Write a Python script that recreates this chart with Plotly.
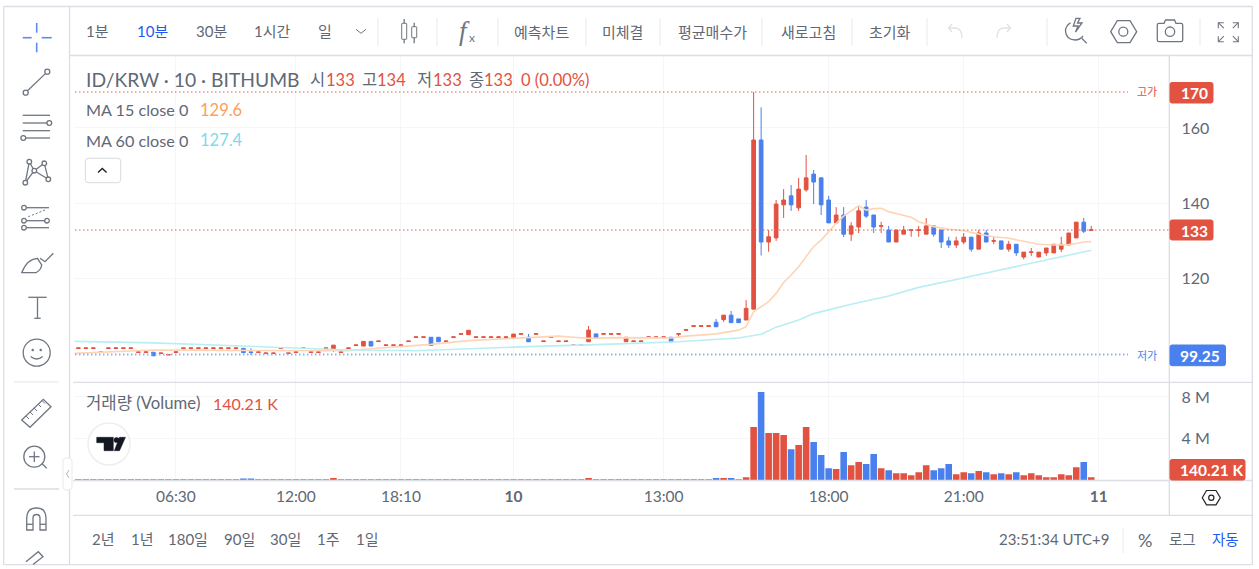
import re
import plotly.graph_objects as go
from plotly.subplots import make_subplots

W, H = 1259, 569
RED = "#e25241"
BLUE = "#4a80ee"
TEXT = "#5f6875"
ICON = "#6f7681"
LINE = "#dcdee5"
FONT = "Lato, 'Noto Sans CJK KR', sans-serif"

# candles
candle_open = [
    101.2, 101.2, 101.2, 100.15, 101.2, 101.2, 101.2, 101.2, 100.15, 100.15,
    100.2, 99.85, 99.45, 100.15, 101.2, 101.2, 101.2, 101.2, 101.2, 101.2,
    101.2, 101.2, 101.25, 100.3, 100.15, 99.85, 99.85, 101.2, 99.85, 100.15,
    101.2, 100.15, 100.15, 101.2, 101.1, 100.15, 101.2, 102, 101.85, 103.1,
    103.05, 102, 102, 102, 103.05, 104.15, 104.15, 104.2, 104.2, 103.05,
    104.15, 105, 104.9, 104.15, 104.15, 104.15, 104.15, 104.15, 104.1, 105,
    104.2, 105, 103.05, 104.15, 103.05, 103.05, 102, 102, 103, 105.1,
    105, 105, 105, 103, 103.05, 103.05, 104.15, 104.15, 104.15, 104.2,
    105, 106.05, 107.1, 107.1, 107.1, 108.2, 108.9, 110.1, 109.1, 108.8,
    111.7, 156.8, 129.6, 130.7, 139.5, 141.9, 138.7, 143.5, 147.7, 146.7,
    140.8, 134.7, 136.8, 131.7, 133.6, 138.9, 136.8, 133.8, 132.8, 129.6,
    131.7, 132.7, 132.7, 131.7, 133.9, 132.8, 129.9, 128.8, 129.6, 130.9,
    127.7, 132, 129.8, 129.9, 127.7, 129, 125.6, 126.8, 125.6, 126.7,
    126.7, 127.7, 128.8, 130.7, 134.9, 132.7,
]
candle_close = [
    101.35, 101.35, 101.35, 100.3, 101.35, 101.35, 101.35, 101.35, 100.3, 100.3,
    99.25, 100, 99.6, 100.3, 101.35, 101.35, 101.35, 101.35, 101.35, 101.35,
    101.35, 101.35, 100.1, 100.15, 100.3, 100, 100, 101.35, 100, 100.3,
    101.35, 100.3, 100.3, 101.35, 102.1, 100.3, 101.35, 102.15, 103.1, 101.85,
    103.2, 102.15, 102.15, 102.15, 103.2, 104.3, 104.3, 102, 103, 103.2,
    104.3, 105.15, 106.05, 104.3, 104.3, 104.3, 104.3, 104.3, 105.05, 105.15,
    103, 105.15, 103.2, 104.3, 103.2, 103.2, 102.15, 102.15, 106.1, 104,
    105.15, 105.15, 105.15, 104.2, 103.2, 103.2, 104.3, 104.3, 104.3, 103,
    105.15, 106.2, 107.25, 107.25, 107.25, 107, 110.1, 108.1, 108.1, 111.9,
    156.8, 129.6, 131, 139.7, 140.8, 139.5, 143.7, 146.7, 145.6, 139.5,
    134.7, 136.8, 131.7, 133.9, 137.9, 136.5, 133.6, 133.95, 129.6, 132.8,
    132.8, 132.85, 132.85, 133.9, 131.7, 129.6, 128.8, 129.9, 130.9, 127.7,
    132, 129.6, 129.95, 127.7, 129, 126.7, 126.9, 126.95, 126.9, 128,
    129, 129, 132, 134.9, 132.5, 132.85,
]
candle_high = [
    101.35, 101.35, 101.35, 100.3, 101.35, 101.35, 101.35, 101.35, 100.3, 100.3,
    100.2, 100, 99.6, 100.3, 101.35, 101.35, 101.35, 101.35, 101.35, 101.35,
    101.35, 101.35, 101.25, 101.25, 100.3, 100, 100, 101.35, 100, 100.3,
    101.35, 100.3, 100.3, 101.35, 102.1, 100.3, 101.35, 102.15, 103.1, 103.1,
    103.2, 102.15, 102.15, 102.15, 103.2, 104.3, 104.3, 104.2, 104.2, 103.2,
    104.3, 105.15, 106.05, 104.3, 104.3, 104.3, 104.3, 104.3, 105.05, 105.15,
    105.1, 105.15, 103.2, 104.3, 103.2, 103.2, 102.15, 102.15, 107.2, 105.1,
    105.15, 105.15, 105.15, 104.2, 103.2, 103.2, 104.3, 104.3, 104.3, 104.2,
    105.15, 106.2, 107.25, 107.25, 107.25, 109.1, 110.1, 111.2, 109.1, 114.1,
    169.6, 165.5, 132.8, 140.8, 143.7, 144.8, 146.7, 152.8, 148.8, 146.7,
    141.9, 138.9, 138.9, 134.9, 138.9, 140.8, 136.8, 135, 133.9, 132.8,
    133.9, 132.85, 133.9, 136, 133.9, 132.8, 131, 131, 132, 130.9,
    132.8, 132.8, 131, 129.9, 129.9, 129, 126.9, 128, 126.9, 128,
    129, 131, 132, 134.9, 136, 133.9,
]
candle_low = [
    101.2, 101.2, 101.2, 100.15, 101.2, 101.2, 101.2, 101.2, 100.15, 100.15,
    99.25, 99.85, 99.45, 100.15, 101.2, 101.2, 101.2, 101.2, 101.2, 101.2,
    101.2, 101.2, 100.1, 99.45, 100.15, 99.85, 99.85, 101.2, 99.85, 100.15,
    101.2, 100.15, 100.15, 101.2, 100.25, 100.15, 101.2, 102, 101.85, 101.85,
    103.05, 102, 102, 102, 103.05, 104.15, 104.15, 102, 103, 103.05,
    104.15, 105, 104.9, 104.15, 104.15, 104.15, 104.15, 104.15, 104.1, 105,
    103, 105, 103.05, 104.15, 103.05, 103.05, 102, 102, 103, 104,
    105, 105, 105, 103, 103.05, 103.05, 104.15, 104.15, 104.15, 103,
    104.2, 106.05, 107.1, 107.1, 107.1, 107, 108.3, 108.1, 108.1, 108.8,
    111.7, 126, 127, 129.9, 136, 137.9, 137.9, 143, 139.7, 136.8,
    134.7, 134.7, 130.9, 129.9, 132, 136, 132, 132, 129.6, 129.6,
    131.7, 131, 131, 131.7, 131, 128, 128, 128, 129, 127,
    127.7, 129.6, 129, 127.7, 127, 125.9, 125, 125.9, 125.6, 125.9,
    126.7, 126.9, 128.8, 130.7, 132, 132.5,
]
# volume in millions
volume = [
    0.08, 0.08, 0.08, 0.08, 0.08, 0.08, 0.08, 0.08, 0.08, 0.08,
    0.1, 0.08, 0.08, 0.08, 0.08, 0.08, 0.08, 0.08, 0.08, 0.08,
    0.08, 0.08, 0.2, 0.2, 0.08, 0.08, 0.08, 0.08, 0.08, 0.08,
    0.08, 0.08, 0.08, 0.08, 0.25, 0.08, 0.1, 0.08, 0.08, 0.1,
    0.08, 0.08, 0.08, 0.08, 0.08, 0.08, 0.08, 0.1, 0.1, 0.08,
    0.08, 0.08, 0.08, 0.08, 0.08, 0.08, 0.08, 0.08, 0.08, 0.08,
    0.1, 0.08, 0.08, 0.08, 0.08, 0.08, 0.08, 0.08, 0.25, 0.1,
    0.08, 0.08, 0.08, 0.08, 0.08, 0.08, 0.08, 0.08, 0.08, 0.1,
    0.08, 0.08, 0.08, 0.08, 0.08, 0.25, 0.25, 0.25, 0.1, 0.32,
    5.12, 8.48, 4.54, 4.54, 4.35, 3.0, 3.39, 5.12, 3.68, 2.43,
    1.18, 1.09, 2.72, 1.47, 1.76, 1.57, 2.53, 1.18, 0.99, 0.7,
    0.7, 0.51, 0.8, 1.47, 0.99, 1.18, 1.57, 0.61, 0.8, 0.7,
    0.9, 0.8, 0.61, 0.7, 0.61, 0.8, 0.51, 0.7, 0.51, 0.32,
    0.32, 0.61, 0.51, 1.28, 1.76, 0.3,
]

ma15_x = [-0.5, 5, 10, 20, 30, 36, 38, 42, 46, 47, 52, 58, 64, 66, 68, 72, 79, 81, 85, 88, 89,
          90, 91, 92, 93, 94, 95, 96, 97, 98, 99, 100, 101, 102, 103, 104, 105, 106, 107, 108,
          109, 110, 111, 112, 114, 116, 118, 120, 122, 124, 126, 128, 130, 132, 133, 134, 135]
ma15_y = [99.9, 100.3, 100.8, 100.7, 100.6, 100.6, 101, 101.5, 102.2, 102.3, 103.3, 103.9, 104.5, 104.2, 103.9, 104.1, 104, 104.5, 105.1, 106.1, 107,
          111, 112.4, 113.7, 115.9, 118.8, 120.8, 123, 125.7, 128.4, 130.1, 132.4, 134.6, 136.5, 137.9, 139.3, 138.1, 138.5, 138.6, 137.7,
          137.2, 136.8, 136.2, 135, 133.7, 133, 132.6, 131.7, 131, 130.6, 129.8, 129, 128.8, 128.9, 129.2, 129.6, 129.7]
ma60_x = [-0.5, 10, 20, 30, 36, 45, 50, 60, 70, 80, 88, 89, 91, 93, 96, 98, 103, 108, 112, 117, 126, 135]
ma60_y = [103.1, 102.7, 102, 101.2, 100.8, 100.6, 101, 101.7, 102.3, 103, 104, 104.3, 105, 106.9, 108.8, 110.5, 113, 115.2, 117.5, 119.6, 123.5, 127.4]

x_tick_pos = [13, 29, 43, 58, 78, 100, 118, 136]
x_tick_text = ["06:30", "12:00", "18:10", "<b>10</b>", "13:00", "18:00", "21:00", "<b>11</b>"]
price_ticks = [120, 140, 160]
vol_ticks = [4, 8]
vol_tick_text = ["4 M", "8 M"]

high_line = 169.6
last_line = 132.8
low_line = 99.6

idx = list(range(len(candle_open)))
vol_colors = [RED if c >= o else BLUE for o, c in zip(candle_open, candle_close)]

fig = make_subplots(rows=2, cols=1, shared_xaxes=True)
fig.add_trace(go.Candlestick(
    x=idx, open=candle_open, high=candle_high, low=candle_low, close=candle_close,
    increasing=dict(line=dict(color=RED, width=1), fillcolor=RED),
    decreasing=dict(line=dict(color=BLUE, width=1), fillcolor=BLUE),
    whiskerwidth=0, hoverinfo="skip"), row=1, col=1)
fig.add_trace(go.Scatter(x=ma15_x, y=ma15_y, mode="lines", line=dict(color="#ffd4b5", width=1.6), hoverinfo="skip"), row=1, col=1)
fig.add_trace(go.Scatter(x=ma60_x, y=ma60_y, mode="lines", line=dict(color="#b9eef3", width=1.6), hoverinfo="skip"), row=1, col=1)
fig.add_trace(go.Bar(x=idx, y=volume, marker=dict(color=vol_colors, line=dict(width=0)), hoverinfo="skip"), row=2, col=1)


# everything outside the axes is placed in screen pixels
def X(px):
    return px / W


def Y(py):
    return 1 - py / H


shapes = []
notes = []


def line(x0, y0, x1, y1, color=ICON, width=1.3):
    shapes.append(dict(type="line", xref="paper", yref="paper", x0=X(x0), y0=Y(y0), x1=X(x1), y1=Y(y1),
                       line=dict(color=color, width=width)))


def circle(cx, cy, r, color=ICON, width=1.3, fill="rgba(0,0,0,0)"):
    shapes.append(dict(type="circle", xref="paper", yref="paper", x0=X(cx - r), y0=Y(cy + r), x1=X(cx + r), y1=Y(cy - r),
                       line=dict(color=color, width=width), fillcolor=fill))


def path(d, color=ICON, width=1.3, fill="rgba(0,0,0,0)"):
    out = []
    is_x = True
    for tok in d.split():
        if re.match(r"[A-Za-z]", tok):
            out.append(tok)
            is_x = True
        else:
            out.append(str(round(X(float(tok)) if is_x else Y(float(tok)), 5)))
            is_x = not is_x
    shapes.append(dict(type="path", xref="paper", yref="paper", path=" ".join(out),
                       line=dict(color=color, width=width), fillcolor=fill))


def box(x0, y0, x1, y1, fill, r=2, border=None):
    path(f"M {x0+r} {y0} L {x1-r} {y0} Q {x1} {y0} {x1} {y0+r} L {x1} {y1-r} Q {x1} {y1} {x1-r} {y1} "
         f"L {x0+r} {y1} Q {x0} {y1} {x0} {y1-r} L {x0} {y0+r} Q {x0} {y0} {x0+r} {y0} Z",
         color=border or fill, width=1, fill=fill)


def label(x, y, text, size=14, color=TEXT, anchor="left", family=FONT):
    notes.append(dict(xref="paper", yref="paper", x=X(x), y=Y(y), text=text, showarrow=False,
                      xanchor=anchor, yanchor="middle", borderpad=0,
                      font=dict(family=family, size=size, color=color)))


# reference lines
for val, col, wid, x_end in [(high_line, "#ee5a4a", 1, 1128), (last_line, "#ee5a4a", 1, 1169), (low_line, "#8fb2f5", 2, 1128)]:
    shapes.append(dict(type="line", xref="paper", yref="y", x0=X(75), x1=X(x_end), y0=val, y1=val,
                       line=dict(color=col, width=wid, dash="1.5px,2.5px")))

# frame and panes
line(3.7, 6.5, 1252.3, 6.5, LINE)
line(3.7, 564.7, 1252.3, 564.7, LINE)
line(3.7, 6.5, 3.7, 564.7, LINE)
line(1252.3, 6.5, 1252.3, 564.7, LINE)
line(69.5, 6.5, 69.5, 564.7, LINE)
line(69.5, 55.5, 1252.3, 55.5, LINE)
line(73, 382.3, 1252.3, 382.3, LINE)
line(73, 480.5, 1252.3, 480.5, LINE)
line(73, 515.3, 1252.3, 515.3, LINE)
line(1169.3, 55.5, 1169.3, 515.3, LINE)
line(14, 382, 59, 382, "#e4e5e9", 1)
line(14, 489, 59, 489, "#e4e5e9", 2)
for sx in [378, 437, 498, 586, 660, 762, 852, 927, 1047, 1200]:
    line(sx, 18, sx, 46, "#e8e9ed", 1)
line(1123, 528, 1123, 553, "#e8e9ed", 1)

# left tools
CROSS = "#5b8def"
line(22.7, 37.7, 31.7, 37.7, CROSS, 1.6)
line(41.7, 37.7, 51.7, 37.7, CROSS, 1.6)
line(36.7, 23, 36.7, 32.7, CROSS, 1.6)
line(36.7, 42.7, 36.7, 52.3, CROSS, 1.6)

line(27.5, 90.8, 45.4, 73.6)
circle(25.7, 92.7, 2.5)
circle(47.3, 71.7, 2.5)

for fy in [115.3, 123, 130.7, 138]:
    line(22.7, fy, 50, fy)
circle(49.3, 123, 2.4, fill="white")
circle(23.3, 138, 2.4, fill="white")

nodes = [(29.3, 161.7), (44.3, 163.3), (34.3, 170.7), (25.3, 182.7), (48.3, 179.3)]
for a, b in [(0, 2), (2, 1), (0, 3), (3, 2), (2, 4), (1, 4)]:
    line(*nodes[a], *nodes[b])
for nx, ny in nodes:
    circle(nx, ny, 2.3, fill="white")

line(24, 207.7, 49, 207.7)
line(24, 220.7, 47, 220.7)
line(24, 227.7, 49, 227.7)
shapes.append(dict(type="line", xref="paper", yref="paper", x0=X(28.3), y0=Y(216.7), x1=X(45), y1=Y(210),
                   line=dict(color=ICON, width=1, dash="2px,2px")))
circle(24, 207.7, 2.3, fill="white")
circle(24, 220.7, 2.3, fill="white")
circle(47, 220.7, 2.3, fill="white")
circle(24, 227.7, 2.3, fill="white")

path("M 21.7 272.7 L 36 272.7 Q 41 270 41.7 265 L 37.3 258.3 Q 27 259 21.7 272.7 Z")
path("M 40 258.3 L 45 261.7 L 53.3 253.3")

line(28.3, 297.3, 46.7, 297.3)
line(37.5, 297.3, 37.5, 318.3)
line(34.3, 318.3, 40.7, 318.3)

circle(36.7, 352.7, 13.5)
circle(32.7, 350, 0.6, fill=ICON)
circle(40.7, 350, 0.6, fill=ICON)
path("M 30.7 356.5 Q 36.7 361.5 42.7 356.5")

path("M 21.7 420 L 43.3 399.3 L 51 406.7 L 30 427.3 Z")
for rx, ry in [(26, 416), (30, 412), (34, 408), (38, 404), (42, 400.5)]:
    line(rx, ry, rx + 3, ry + 3, ICON, 1)

circle(34.3, 456.7, 10.5)
line(34.3, 451.5, 34.3, 462, ICON)
line(29, 456.7, 39.5, 456.7, ICON)
line(41.7, 463.3, 46.7, 468.3)

path("M 26.7 530 L 26.7 518 Q 26.7 508 36.5 508 Q 46 508 46 518 L 46 530 L 40 530 L 40 518 Q 40 514.5 36.5 514.5 Q 33 514.5 33 518 L 33 530 Z")
line(26.7, 524.3, 33, 524.3)
line(40, 524.3, 46, 524.3)
path("M 26 561.7 L 38.3 551.7 L 43 556.7 L 33 564.5")

box(63, 458, 72, 490, "white", r=4, border="#e8e9ec")
path("M 69 470 L 66.5 474 L 69 478", color="#b0b4ba", width=1)

# top toolbar
line(356, 29.3, 361, 33.3, ICON, 1)
line(361, 33.3, 366, 29.3, ICON, 1)
line(404.2, 19, 404.2, 43.3)
box(401.7, 23.3, 406.7, 39.3, "white", r=0.5, border=ICON)
line(414.2, 22.7, 414.2, 43.3)
box(411.7, 26.7, 416.7, 37.7, "white", r=0.5, border=ICON)

UNDO = "#dfe1e5"
path("M 962 38 Q 962 28 955 28 L 949 28", UNDO)
path("M 952 24 L 948.5 28 L 952 32", UNDO)
path("M 997 38 Q 997 28 1004 28 L 1010 28", UNDO)
path("M 1007 24 L 1010.5 28 L 1007 32", UNDO)

path("M 1070.5 22.7 Q 1065.5 26 1065.5 31 Q 1066 39.5 1075 40 Q 1080 40 1083 36")
path("M 1076 18.3 L 1073.3 26 L 1078 26 L 1075.5 32 L 1082 23 L 1077.5 23 L 1080 18.3 Z")
line(1081.7, 38.3, 1086.7, 43.3)

path("M 1110.7 31.7 L 1117.3 20.7 L 1130 20.7 L 1136.7 31.7 L 1130 42.7 L 1117.3 42.7 Z")
circle(1123.3, 31.7, 4.5)
path("M 1159 23.3 L 1164 23.3 L 1165.5 20 L 1174.5 20 L 1176 23.3 L 1181 23.3 Q 1182.7 23.3 1182.7 25 L 1182.7 40 "
     "Q 1182.7 41.7 1181 41.7 L 1159 41.7 Q 1157.3 41.7 1157.3 40 L 1157.3 25 Q 1157.3 23.3 1159 23.3 Z")
circle(1170, 31.7, 4.7)

for cx, cy, dx, dy in [(1218.3, 22.7, 1, 1), (1238.3, 22.7, -1, 1), (1218.3, 41.7, 1, -1), (1238.3, 41.7, -1, -1)]:
    path(f"M {cx+dx*5.5} {cy} L {cx} {cy} L {cx} {cy+dy*5.5}", width=1.1)
    line(cx, cy, cx + dx * 5.5, cy + dy * 5.5, ICON, 1.1)

# settings nut under the price axis
path("M 1202.3 497.7 L 1206.5 490.5 L 1216 490.5 L 1220.3 497.7 L 1216 504.9 L 1206.5 504.9 Z", "#222222", 1.2)
circle(1211.3, 497.7, 2.6, "#222222", 1.2)

# collapse button in the legend
box(85.3, 158.3, 120.7, 182.7, "white", r=3, border="#d8dade")
path("M 98 172.5 L 102.3 168.5 L 106.6 172.5", "#222222", 1.4)

# tradingview badge
circle(109, 444, 21, "#eeeeee", 1.5, "white")
TV = "#131722"
path("M 96.7 437.3 L 113.3 437.3 L 113.3 450.7 L 104 450.7 L 104 442.7 L 96.7 442.7 Z", TV, 0.5, TV)
circle(116.6, 440, 2.6, TV, 0.5, TV)
path("M 119.5 437.3 L 125.5 437.3 L 119.5 450.7 L 114.3 450.7 Z", TV, 0.5, TV)

# price tags on the axis
for x1, y0, y1, col in [(1213, 82.5, 103, RED), (1213, 220, 240, RED), (1225.5, 345, 365.7, BLUE), (1245, 459.5, 480, RED)]:
    box(1170, y0, x1, y1, col)
label(1194, 93, "<b>170</b>", 15.5, "white", "center")
label(1194, 230.5, "<b>133</b>", 15.5, "white", "center")
label(1200, 355.5, "<b>99.25</b>", 15.5, "white", "center")
label(1211, 470, "<b>140.21 K</b>", 15.5, "white", "center")
label(1147, 92, "고가", 11, RED, "center")
label(1147, 355, "저가", 11, BLUE, "center")

# toolbar text
for tx, txt, col in [(97, "1분", TEXT), (152, "10분", "#1f5af0"), (211, "30분", TEXT), (272, "1시간", TEXT), (325, "일", TEXT)]:
    label(tx, 31.5, txt, 15, col, "center")
for tx, txt in [(541, "예측차트"), (622, "미체결"), (712, "평균매수가"), (808, "새로고침"), (890, "초기화")]:
    label(tx, 32.5, txt, 15, TEXT, "center")
label(464, 31, "<i>f</i>", 27, ICON, "center", "Liberation Serif")
label(472, 38, "x", 12, ICON, "center")

# legend text
label(84.5, 80, "ID/KRW · 10 · BITHUMB", 19.3)
for tx, txt, col in [(309, "시", TEXT), (325, "133", RED), (361, "고", TEXT), (376, "134", RED), (416, "저", TEXT), (432, "133", RED),
                     (468, "종", TEXT), (483, "133", RED), (520, "0 (0.00%)", RED)]:
    label(tx, 80, txt, 16.5, col)
label(84.5, 110, "MA 15 close 0", 16.2)
label(199, 110, "129.6", 16.5, "#ff9d5c")
label(84.5, 140, "MA 60 close 0", 16.2)
label(199, 140, "127.4", 16.5, "#7adce8")
label(84.5, 403, "거래량 (Volume)", 16.7)
label(212, 403, "140.21 K", 16, RED)

# bottom bar
for tx, txt in [(103, "2년"), (142, "1년"), (188, "180일"), (239, "90일"), (285, "30일"), (328, "1주"), (367, "1일")]:
    label(tx, 539, txt, 15, TEXT, "center")
label(1110, 539, "23:51:34 UTC+9", 15, TEXT, "right")
label(1145, 540, "%", 18, TEXT, "center")
label(1182, 539, "로그", 14.5, TEXT, "center")
label(1225, 539, "자동", 14.5, "#1f5af0", "center")

fig.update_layout(
    width=W, height=H, autosize=False, margin=dict(l=0, r=0, t=0, b=0),
    paper_bgcolor="white", plot_bgcolor="white", showlegend=False,
    bargap=0.12, hovermode=False, font=dict(family=FONT, color=TEXT),
    shapes=shapes, annotations=notes,
)
fig.update_xaxes(
    range=[-0.58, 145.4], domain=[X(74), X(1169.3)], tickmode="array",
    tickvals=x_tick_pos, ticktext=x_tick_text, showgrid=True, gridcolor="#f5f6f7", gridwidth=1,
    showline=False, zeroline=False, rangeslider=dict(visible=False),
)
fig.update_xaxes(showticklabels=False, ticks="", row=1, col=1)
fig.update_xaxes(showticklabels=True, ticks="outside", ticklen=2, tickcolor="rgba(0,0,0,0)",
                 tickfont=dict(size=15.5, color=TEXT), row=2, col=1)
fig.update_yaxes(
    side="right", range=[92.19, 179.33], domain=[Y(382.3), Y(55.5)], tickmode="array", tickvals=price_ticks,
    showgrid=True, gridcolor="#f5f6f7", zeroline=False, showline=False,
    ticks="outside", ticklen=8, tickcolor="rgba(0,0,0,0)", tickfont=dict(size=16, color=TEXT), row=1, col=1,
)
fig.update_yaxes(
    side="right", range=[0, 9.4], domain=[Y(480.5), Y(382.3)], tickmode="array", tickvals=vol_ticks,
    ticktext=vol_tick_text, showgrid=True, gridcolor="#f5f6f7", zeroline=False, showline=False,
    ticks="outside", ticklen=8, tickcolor="rgba(0,0,0,0)", tickfont=dict(size=16, color=TEXT), row=2, col=1,
)

fig.write_html("out.html", config=dict(displayModeBar=False),
               post_script="document.body.style.margin='0';document.body.style.overflow='hidden';")
